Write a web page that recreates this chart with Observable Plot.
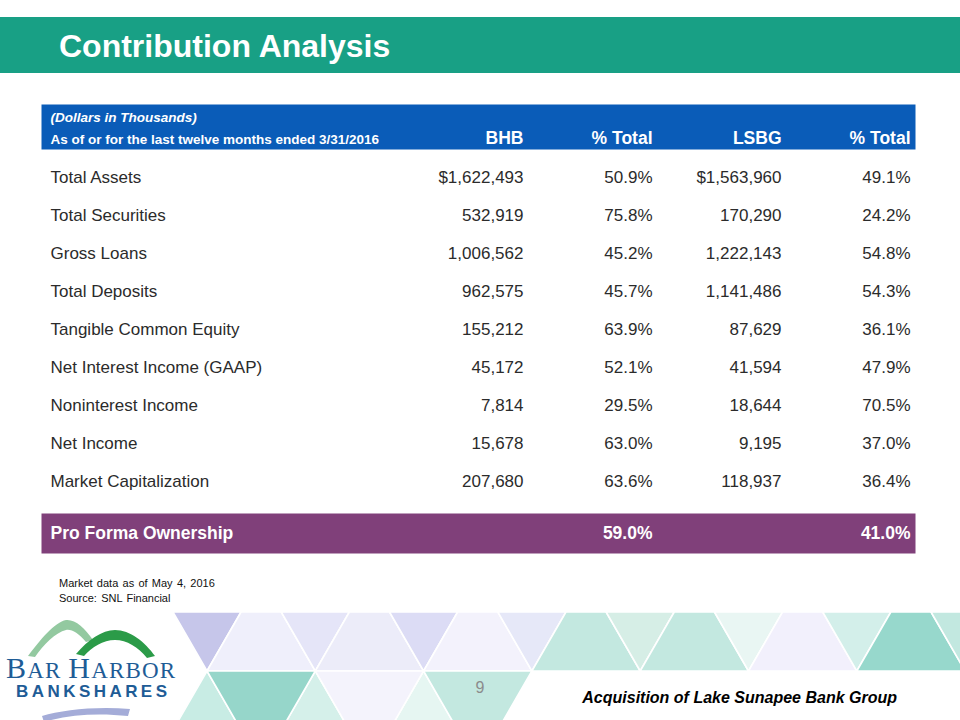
<!DOCTYPE html>
<html>
<head>
<meta charset="utf-8">
<script src="https://cdn.jsdelivr.net/npm/d3@7"></script>
<script src="https://cdn.jsdelivr.net/npm/@observablehq/plot@0.6"></script>
<style>
  html, body { margin: 0; padding: 0; background: #ffffff; }
  #slide { position: relative; width: 960px; height: 720px; overflow: hidden; background: #ffffff;
           font-family: Arial, "Liberation Sans", sans-serif; }
  #slide > svg, #slide > div { position: absolute; left: 0; }
  #deco { top: 0; }
</style>
</head>
<body>
<div id="slide"></div>
<script>
// ---------- DATA ----------
const slideTitle = "Contribution Analysis";
const headerNotes = ["(Dollars in Thousands)", "As of or for the last twelve months ended 3/31/2016"];
const columnKeys = ["BHB", "pctBHB", "LSBG", "pctLSBG"];
const columnLabels = ["BHB", "% Total", "LSBG", "% Total"];
const categories = [
  "Total Assets", "Total Securities", "Gross Loans", "Total Deposits",
  "Tangible Common Equity", "Net Interest Income (GAAP)", "Noninterest Income",
  "Net Income", "Market Capitalization"
];
const bhbValues  = [1622493, 532919, 1006562, 962575, 155212, 45172, 7814, 15678, 207680];
const bhbPct     = [50.9, 75.8, 45.2, 45.7, 63.9, 52.1, 29.5, 63.0, 63.6];
const lsbgValues = [1563960, 170290, 1222143, 1141486, 87629, 41594, 18644, 9195, 118937];
const lsbgPct    = [49.1, 24.2, 54.8, 54.3, 36.1, 47.9, 70.5, 37.0, 36.4];
const proFormaLabel = "Pro Forma Ownership";
const proFormaKeys = ["pctBHB", "pctLSBG"];
const proFormaPct = [59.0, 41.0];
const footnotes = ["Market data as of May 4, 2016", "Source: SNL Financial"];
const footerText = "Acquisition of Lake Sunapee Bank Group";
const pageNumber = "9";

// ---------- helpers ----------
const money = d3.format(",");
const pct = v => v.toFixed(1) + "%";
const FONT = "Arial, 'Liberation Sans', sans-serif";
const slide = document.getElementById("slide");
const xScale = {type: "point", domain: columnKeys, range: [523, 910], padding: 0, align: 0.5, axis: null};
const baseStyle = {fontFamily: FONT, background: "transparent", overflow: "visible"};

const cells = categories.flatMap((row, i) => [
  {row, col: "BHB",     text: (i === 0 ? "$" : "") + money(bhbValues[i])},
  {row, col: "pctBHB",  text: pct(bhbPct[i])},
  {row, col: "LSBG",    text: (i === 0 ? "$" : "") + money(lsbgValues[i])},
  {row, col: "pctLSBG", text: pct(lsbgPct[i])}
]);

// ---------- decorative background (title bar, footer, logo) ----------
const deco = d3.select(slide).append("svg")
  .attr("id", "deco").attr("width", 960).attr("height", 720)
  .style("font-family", FONT);

deco.append("rect").attr("x", 0).attr("y", 17).attr("width", 960).attr("height", 56).attr("fill", "#18A085");
deco.append("text").attr("x", 59).attr("y", 57).attr("fill", "#fff")
  .attr("font-size", 32).attr("font-weight", "bold").text(slideTitle);

footnotes.forEach((t, i) => {
  deco.append("text").attr("x", 59).attr("y", 587 + i * 14.5).attr("font-size", 11)
    .attr("word-spacing", 1.2).attr("fill", "#111").text(t);
});

// triangle lattice band
const yTop = 612, yMid = 671, yBot = 724;
const tan30 = Math.tan(Math.PI / 6);
const a = (yMid - yTop) * tan30, b = (yBot - yMid) * tan30;
const P = d3.range(8).map(k => 207 + 108.3 * k);
const topDown = ["#C6C6EA", "#E5E5F8", "#DCDCF5", "#E6E8F8", "#D6EEE6", "#E9F6F3", "#D3EFEA", "#C2E8E0"];
const topUp   = ["#EFEFFB", "#ECECF9", "#F3F2FC", "#C3E8E0", "#C3E8E0", "#F2F0FC", "#97D8CC"];
const botUp   = ["#C8ECE4", "#D5F0EA", "#E6F6F2"];
const botDown = ["#96D6CA", "#F4F3FC", "#C3E8E0"];
const tri = deco.append("g").attr("stroke", "#fff").attr("stroke-width", 1.6).attr("stroke-linejoin", "round");
const poly = (pts, fill) => tri.append("polygon").attr("points", pts.map(p => p.join(",")).join(" ")).attr("fill", fill);
P.forEach((p, k) => {
  poly([[p - a, yTop], [p + a, yTop], [p, yMid]], topDown[k]);
  if (k < P.length - 1) {
    const q = P[k + 1];
    poly([[p + a, yTop], [q - a, yTop], [q, yMid], [p, yMid]], topUp[k]);
  }
});
botUp.forEach((c, k) => poly([[P[k], yMid], [P[k] + b, yBot], [P[k] - b, yBot]], c));
botDown.forEach((c, k) => poly([[P[k], yMid], [P[k + 1], yMid], [P[k + 1] - b, yBot], [P[k] + b, yBot]], c));

deco.append("text").attr("x", 480).attr("y", 693).attr("text-anchor", "middle")
  .attr("font-size", 16).attr("fill", "#8C8C8C").text(pageNumber);
deco.append("text").attr("x", 897).attr("y", 703).attr("text-anchor", "end")
  .attr("font-size", 16).attr("font-weight", "bold").attr("font-style", "italic")
  .attr("fill", "#000").text(footerText);

// logo
const logo = deco.append("g");
logo.append("path").attr("fill", "#93C9A0")
  .attr("d", "M28,656 C40,640 55,622 66,620 C75,619 85,628 93,640 L86,642 C78,633 72,629 66,630 C56,632 43,645 35,657 Z");
logo.append("path").attr("fill", "#2B9B48")
  .attr("d", "M76,654 C88,640 102,630 115,630 C130,630 145,642 155,656 L147,658 C138,647 127,640 115,640 C103,640 92,647 84,656 Z");
logo.append("path").attr("fill", "#A4ACD8")
  .attr("d", "M42,716 C62,710 96,706 130,709 L128,716 C100,713 70,714 44,722 Z");
const bh = logo.append("text").attr("x", 6).attr("y", 678).attr("fill", "#1E5C96")
  .attr("font-family", "'Liberation Serif', 'DejaVu Serif', serif")
  .attr("textLength", 169).attr("lengthAdjust", "spacing");
bh.append("tspan").attr("font-size", 30).text("B");
bh.append("tspan").attr("font-size", 23).text("AR ");
bh.append("tspan").attr("font-size", 30).text("H");
bh.append("tspan").attr("font-size", 23).text("ARBOR");
logo.append("text").attr("x", 16).attr("y", 697).attr("fill", "#1E5C96")
  .attr("font-size", 17).attr("font-weight", "bold")
  .attr("textLength", 151).attr("lengthAdjust", "spacing").text("BANKSHARES");

// ---------- table header (Plot) ----------
const header = Plot.plot({
  width: 960, height: 45,
  marginLeft: 41, marginRight: 45, marginTop: 0, marginBottom: 0,
  x: xScale,
  style: baseStyle,
  marks: [
    Plot.frame({fill: "#0A5CB8", stroke: "none"}),
    Plot.text([headerNotes[0]], {text: d => d, frameAnchor: "top-left", textAnchor: "start", lineAnchor: "bottom",
      dx: 9, dy: 17.5, fill: "#fff", fontSize: 13.5, fontWeight: "bold", fontStyle: "italic"}),
    Plot.text([headerNotes[1]], {text: d => d, frameAnchor: "bottom-left", textAnchor: "start", lineAnchor: "bottom",
      dx: 9, dy: -5.5, fill: "#fff", fontSize: 13.5, fontWeight: "bold"}),
    Plot.text(columnKeys, {x: d => d, text: (d, i) => columnLabels[i], frameAnchor: "bottom", textAnchor: "end",
      lineAnchor: "bottom", dy: -5.5, fill: "#fff", fontSize: 17.5, fontWeight: "bold"})
  ]
});
header.style.top = "104px";
slide.appendChild(header);

// ---------- table body (Plot) ----------
const body = Plot.plot({
  width: 960, height: 347,
  marginLeft: 41, marginRight: 45, marginTop: 0, marginBottom: 0,
  x: xScale,
  y: {type: "band", domain: categories, range: [0, 346.5], padding: 0, axis: null},
  style: baseStyle,
  marks: [
    Plot.text(categories, {y: d => d, text: d => d, frameAnchor: "left", textAnchor: "start",
      dx: 9, fill: "#2b2b2b", fontSize: 17}),
    Plot.text(cells, {x: "col", y: "row", text: "text", textAnchor: "end", fill: "#2b2b2b", fontSize: 17})
  ]
});
body.style.top = "156px";
slide.appendChild(body);

// ---------- pro forma row (Plot) ----------
const pro = Plot.plot({
  width: 960, height: 40,
  marginLeft: 41, marginRight: 45, marginTop: 0, marginBottom: 0,
  x: xScale,
  style: baseStyle,
  marks: [
    Plot.frame({fill: "#80407A", stroke: "none"}),
    Plot.text([proFormaLabel], {text: d => d, frameAnchor: "left", textAnchor: "start", dx: 9,
      fill: "#fff", fontSize: 17.5, fontWeight: "bold"}),
    Plot.text(proFormaKeys, {x: d => d, text: (d, i) => pct(proFormaPct[i]), frameAnchor: "middle",
      textAnchor: "end", fill: "#fff", fontSize: 17.5, fontWeight: "bold"})
  ]
});
pro.style.top = "513px";
slide.appendChild(pro);
</script>
</body>
</html>
